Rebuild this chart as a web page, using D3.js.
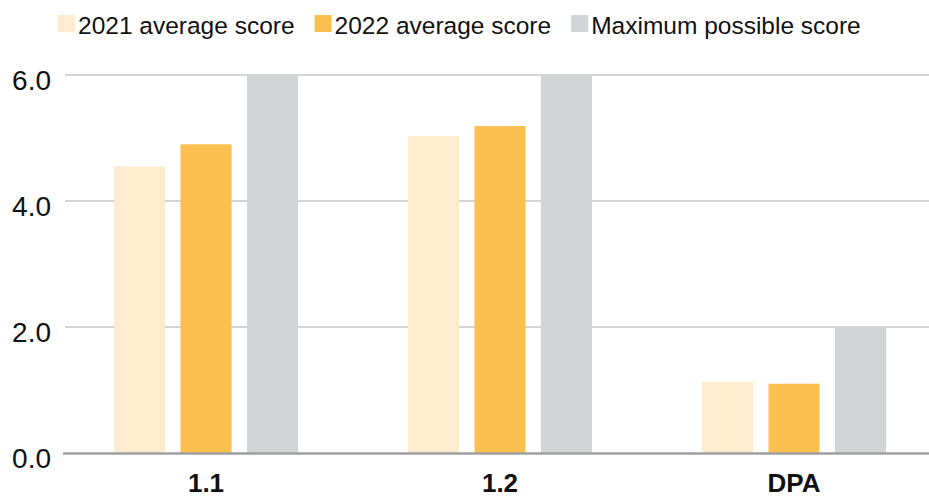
<!DOCTYPE html>
<html>
<head>
<meta charset="utf-8">
<script src="https://cdn.jsdelivr.net/npm/d3@7"></script>
<style>
  html, body { margin: 0; padding: 0; background: #ffffff; }
  svg { display: block; font-family: "Liberation Sans", Arial, Helvetica, sans-serif; }
</style>
</head>
<body>
<svg id="chart" width="929" height="498"></svg>
<script>
const categories = ["1.1", "1.2", "DPA"];
const seriesNames = ["2021 average score", "2022 average score", "Maximum possible score"];
const scores2021 = [4.55, 5.03, 1.13];
const scores2022 = [4.9, 5.19, 1.1];
const scoresMax = [6.0, 6.0, 2.0];
const yTicks = [0, 2, 4, 6];
const colors = ["#feebd0", "#fbc050", "#d1d5d5"];

const seriesValues = [scores2021, scores2022, scoresMax];
const svg = d3.select("#chart");

const y = d3.scaleLinear().domain([0, 6]).range([453, 75]);
const x0 = d3.scaleBand().domain(categories).range([59, 941]).paddingInner(0).paddingOuter(0);
const x1 = d3.scaleBand().domain(seriesNames).range([-92, 92]).paddingInner(0.233).paddingOuter(0);
const color = d3.scaleOrdinal().domain(seriesNames).range(colors);

// gridlines
svg.append("g").selectAll("line")
  .data(yTicks.filter(t => t !== 0))
  .join("line")
  .attr("x1", 65).attr("x2", 929)
  .attr("y1", d => y(d)).attr("y2", d => y(d))
  .attr("stroke", "#c6c6c6").attr("stroke-width", 1.5);

// y labels
svg.append("g").selectAll("text")
  .data(yTicks)
  .join("text")
  .attr("x", 51).attr("y", d => y(d) + 15)
  .attr("text-anchor", "end")
  .attr("font-size", 28)
  .attr("fill", "#111")
  .text(d => d3.format(".1f")(d));

// bars
const rows = categories.map((c, i) => ({ cat: c, vals: seriesNames.map((s, j) => ({ s, v: seriesValues[j][i] })) }));
svg.append("g").selectAll("g")
  .data(rows)
  .join("g")
  .attr("transform", d => `translate(${x0(d.cat) + x0.bandwidth() / 2},0)`)
  .selectAll("rect")
  .data(d => d.vals)
  .join("rect")
  .attr("x", d => x1(d.s))
  .attr("width", x1.bandwidth())
  .attr("y", d => y(d.v))
  .attr("height", d => y(0) - y(d.v))
  .attr("fill", d => color(d.s));

// baseline
svg.append("line")
  .attr("x1", 63).attr("x2", 929)
  .attr("y1", y(0) + 0.5).attr("y2", y(0) + 0.5)
  .attr("stroke", "#a0a0a2").attr("stroke-width", 2.5);

// x labels
svg.append("g").selectAll("text")
  .data(categories)
  .join("text")
  .attr("x", d => x0(d) + x0.bandwidth() / 2)
  .attr("y", 492)
  .attr("text-anchor", "middle")
  .attr("font-size", 26)
  .attr("font-weight", "bold")
  .attr("fill", "#111")
  .text(d => d);

// legend
const legend = svg.append("g");
let lx = 58;
seriesNames.forEach((s, i) => {
  const g = legend.append("g").attr("transform", `translate(${lx},0)`);
  g.append("rect").attr("x", 0).attr("y", 15).attr("width", 17).attr("height", 17).attr("fill", colors[i]);
  const t = g.append("text").attr("x", 20).attr("y", 34).attr("font-size", 24.5).attr("fill", "#111").text(s);
  const w = t.node().getComputedTextLength();
  lx += 20 + w + 20;
});
</script>
</body>
</html>
